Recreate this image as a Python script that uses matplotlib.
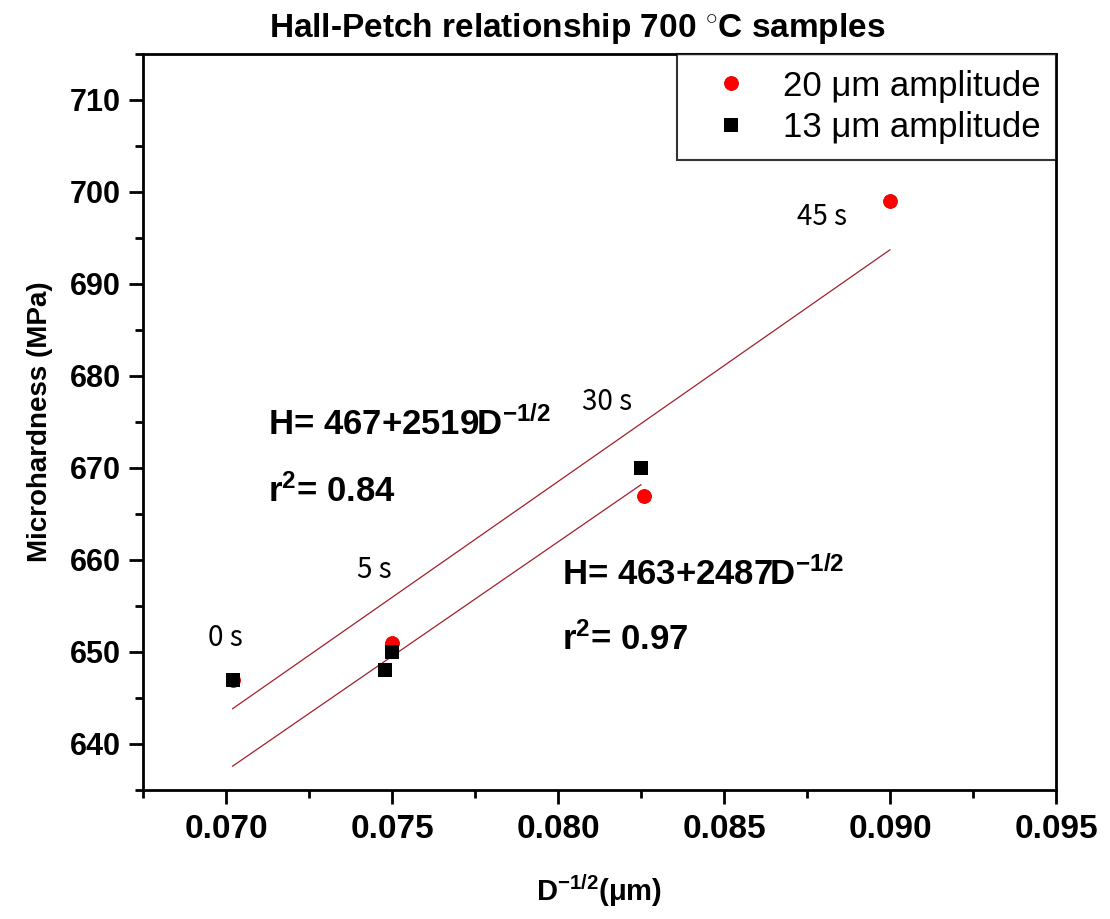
import matplotlib
matplotlib.use("Agg")
import matplotlib.pyplot as plt
import numpy as np
from matplotlib.ticker import MultipleLocator, FormatStrFormatter

plt.rcParams['font.family'] = ['Liberation Sans', 'DejaVu Sans']
plt.rcParams['mathtext.fontset'] = 'custom'
plt.rcParams['mathtext.rm'] = 'Liberation Sans:bold'
plt.rcParams['mathtext.bf'] = 'Liberation Sans:bold'
plt.rcParams['mathtext.it'] = 'Liberation Sans:bold'

# Grain-size parameter D^-1/2 and microhardness for each amplitude
d20 = [0.0702, 0.0750, 0.0826, 0.0900]
h20 = [647, 651, 667, 699]
d13 = [0.0702, 0.0748, 0.0750, 0.0825]
h13 = [647, 648, 650, 670]

# Hall-Petch fits: H = a + b * D^-1/2
fit20 = (467, 2519)
fit13 = (463, 2487)
fit20_range = (0.0702, 0.0900)
fit13_range = (0.0702, 0.0825)
r2_20 = 0.84
r2_13 = 0.97

# Processing-time annotations (x, y, text)
time_labels = [(0.06946, 650.6, "0 s"), (0.07395, 658.0, "5 s"),
               (0.08072, 676.3, "30 s"), (0.08720, 696.4, "45 s")]

fig = plt.figure(figsize=(11.10, 9.19), dpi=100)
ax = fig.add_axes([0.1288, 0.1404, 0.8225, 0.8009])

line_color = '#a3202c'
for (a, b), (x0, x1) in ((fit20, fit20_range), (fit13, fit13_range)):
    xs = np.array([x0, x1])
    ax.plot(xs, a + b * xs, color=line_color, lw=0.9, zorder=2)

ax.plot(d20, h20, 'o', color='#ff0000', ms=10, mec='#d80000', mew=0.6,
        label='20 \u03bcm amplitude', zorder=3)
ax.plot(d13, h13, 's', color='black', ms=9.5, mew=0,
        label='13 \u03bcm amplitude', zorder=4)

ax.set_xlim(0.0675, 0.095)
ax.set_ylim(635, 715)
ax.xaxis.set_major_locator(MultipleLocator(0.005))
ax.xaxis.set_minor_locator(MultipleLocator(0.0025))
ax.yaxis.set_major_locator(MultipleLocator(10))
ax.yaxis.set_minor_locator(MultipleLocator(5))
ax.xaxis.set_major_formatter(FormatStrFormatter('%.3f'))

for s in ax.spines.values():
    s.set_linewidth(2.0)
ax.tick_params(which='major', direction='out', length=10, width=2, top=False, right=False)
ax.tick_params(which='minor', direction='out', length=5.5, width=2, top=False, right=False)
ax.tick_params(axis='x', which='major', labelsize=24, pad=7)
ax.tick_params(axis='y', which='major', labelsize=22, pad=6)
for lab in ax.get_xticklabels() + ax.get_yticklabels():
    lab.set_fontweight('bold')

ax.set_ylabel('Microhardness (MPa)', fontsize=20, fontweight='bold', labelpad=12)
ax.set_xlabel('D$^{\\mathrm{-1/2}}$(\u03bcm)', fontsize=21, fontweight='bold', labelpad=20)

fig.text(0.52, 1 - 37 / 919, 'Hall-Petch relationship 700 $^{\\circ}$C samples',
         ha='center', va='baseline', fontsize=24, fontweight='bold')

eq_kw = dict(fontsize=25, fontweight='bold', va='baseline', ha='left')
ax.text(0.07126, 673.6, 'H= %d+%dD$^{\\mathrm{-1/2}}$' % fit20, **eq_kw)
ax.text(0.07126, 666.3, 'r$^{\\mathrm{2}}$= %.2f' % r2_20, **eq_kw)
ax.text(0.08012, 657.3, 'H= %d+%dD$^{\\mathrm{-1/2}}$' % fit13, **eq_kw)
ax.text(0.08012, 650.2, 'r$^{\\mathrm{2}}$= %.2f' % r2_13, **eq_kw)

for x, y, t in time_labels:
    ax.text(x, y, t, fontsize=20, family=['Noto Sans CJK KR', 'DejaVu Sans'],
            va='baseline', ha='left')

leg = ax.legend(loc='upper right', borderaxespad=0, fontsize=25, frameon=True,
                fancybox=False, labelspacing=0.25, borderpad=0.45,
                handletextpad=0.38, handlelength=2.2, markerscale=1.0)
leg.get_frame().set_edgecolor('black')
leg.get_frame().set_linewidth(1.5)

fig.savefig('out.png', dpi=100, facecolor='white')
